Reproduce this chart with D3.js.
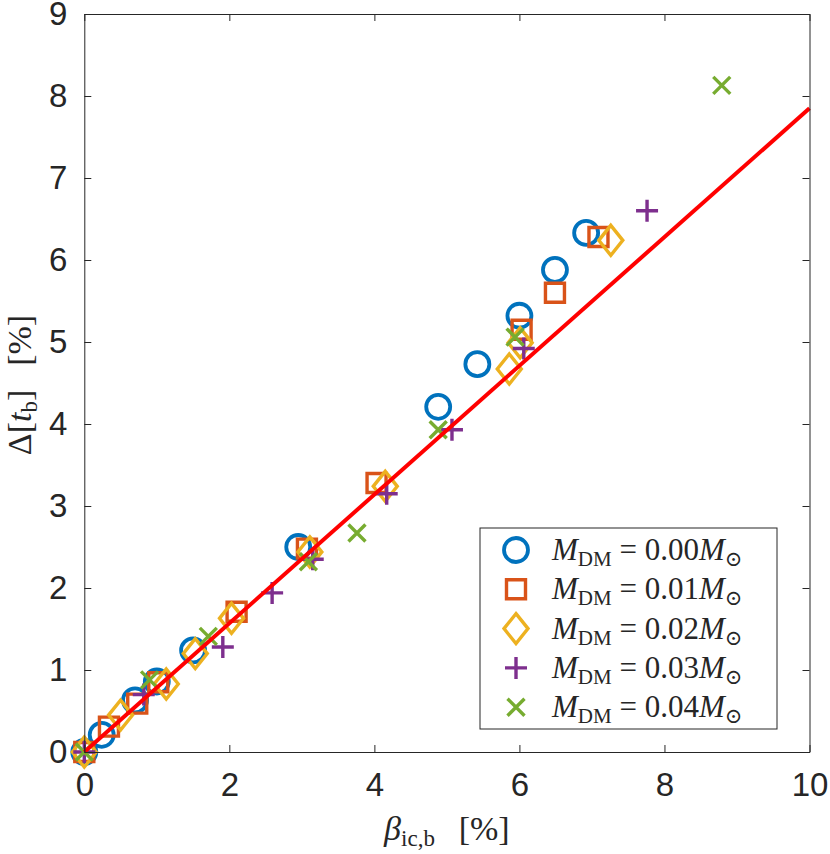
<!DOCTYPE html>
<html>
<head>
<meta charset="utf-8">
<script src="https://cdn.jsdelivr.net/npm/d3@7"></script>
<style>
  body { margin: 0; background: #fff; }
  .tick text { font-family: "Liberation Sans", Arial, sans-serif; font-size: 33px; fill: #262626; }
  .math { font-family: "Liberation Serif", "DejaVu Serif", serif; fill: #262626; }
</style>
</head>
<body>
<svg id="chart" width="830" height="854"></svg>
<script>
// data: beta_ic,b [%] vs Delta[t_b] [%]
const xTicks = [0, 2, 4, 6, 8, 10];
const yTicks = [0, 1, 2, 3, 4, 5, 6, 7, 8, 9];

const m000x = [0, 0.24, 0.70, 1.00, 1.50, 2.95, 4.88, 5.42, 6.00, 6.49, 6.92];
const m000y = [0, 0.21, 0.63, 0.86, 1.24, 2.50, 4.21, 4.73, 5.32, 5.88, 6.33];
const m001x = [0, 0.34, 0.73, 1.02, 2.10, 3.07, 4.03, 6.03, 6.49, 7.09];
const m001y = [0, 0.31, 0.59, 0.85, 1.71, 2.48, 3.28, 5.15, 5.60, 6.28];
const m002x = [0, 0.50, 1.13, 1.53, 2.03, 3.11, 4.15, 5.86, 6.01, 7.26];
const m002y = [0, 0.45, 0.83, 1.20, 1.63, 2.44, 3.24, 4.67, 4.99, 6.24];
const m003x = [0, 0.82, 1.91, 2.59, 3.15, 4.17, 5.07, 6.06, 7.76];
const m003y = [0, 0.70, 1.28, 1.94, 2.35, 3.15, 3.93, 4.92, 6.60];
const m004x = [0, 0.90, 1.71, 3.09, 3.76, 4.88, 5.94, 8.79];
const m004y = [0, 0.88, 1.41, 2.32, 2.67, 3.93, 5.06, 8.13];

const fitX = [0, 10];
const fitY = [0, 7.85];

const labels = ['0.00', '0.01', '0.02', '0.03', '0.04'];
const colors = ['#0072BD', '#D95319', '#EDB120', '#7E2F8E', '#77AC30'];
const shapes = ['circle', 'square', 'diamond', 'plus', 'cross'];

const series = [
  { x: m000x, y: m000y }, { x: m001x, y: m001y }, { x: m002x, y: m002y },
  { x: m003x, y: m003y }, { x: m004x, y: m004y }
];

const svg = d3.select('#chart');
const plotLeft = 84.3, plotRight = 809.5, plotTop = 14, plotBottom = 752;

const xScale = d3.scaleLinear().domain([0, 10]).range([plotLeft, plotRight]);
const yScale = d3.scaleLinear().domain([0, 9]).range([plotBottom, plotTop]);

// marker path for a shape, centered at 0,0
function markerPath(shape) {
  switch (shape) {
    case 'circle': return d3.arc()({ innerRadius: 0, outerRadius: 12, startAngle: 0, endAngle: 2 * Math.PI });
    case 'square': return 'M-9.5,-9.5H9.5V9.5H-9.5Z';
    case 'diamond': return 'M0,-15L12,0L0,15L-12,0Z';
    case 'plus': return 'M-11,0H11M0,-11V11';
    case 'cross': return 'M-8.5,-8.5L8.5,8.5M-8.5,8.5L8.5,-8.5';
  }
}

// markers
series.forEach((s, i) => {
  const pts = s.x.map((v, k) => [v, s.y[k]]);
  svg.append('g').selectAll('path')
    .data(pts)
    .enter()
    .append('path')
    .attr('transform', (d) => `translate(${xScale(d[0])},${yScale(d[1])})`)
    .attr('d', markerPath(shapes[i]))
    .attr('fill', 'none')
    .attr('stroke', colors[i])
    .attr('stroke-width', shapes[i] === 'circle' ? 3.8 : 3.4);
});

// fitted line
svg.append('path')
  .datum(fitX.map((v, k) => [v, fitY[k]]))
  .attr('d', d3.line().x((d) => xScale(d[0])).y((d) => yScale(d[1])))
  .attr('stroke', '#FF0000')
  .attr('stroke-width', 4)
  .attr('fill', 'none');

// axes (box with inward ticks)
const tickLen = 7;
svg.append('g')
  .attr('transform', `translate(0, ${plotBottom})`)
  .call(d3.axisBottom(xScale).tickValues(xTicks).tickSizeInner(-tickLen).tickSizeOuter(0).tickPadding(21))
  .call((g) => g.select('.domain').attr('stroke', '#262626'))
  .call((g) => g.selectAll('.tick line').attr('stroke', '#262626'));

svg.append('g')
  .attr('transform', `translate(${plotLeft}, 0)`)
  .call(d3.axisLeft(yScale).tickValues(yTicks).tickSizeInner(-tickLen).tickSizeOuter(0).tickPadding(17))
  .call((g) => g.select('.domain').attr('stroke', '#262626'))
  .call((g) => g.selectAll('.tick line').attr('stroke', '#262626'));

svg.append('g')
  .attr('transform', `translate(0, ${plotTop})`)
  .call(d3.axisTop(xScale).tickValues(xTicks).tickSizeInner(-tickLen).tickSizeOuter(0).tickFormat(''))
  .call((g) => g.select('.domain').attr('stroke', '#262626'))
  .call((g) => g.selectAll('.tick line').attr('stroke', '#262626'));

svg.append('g')
  .attr('transform', `translate(${plotRight}, 0)`)
  .call(d3.axisRight(yScale).tickValues(yTicks).tickSizeInner(-tickLen).tickSizeOuter(0).tickFormat(''))
  .call((g) => g.select('.domain').attr('stroke', '#262626'))
  .call((g) => g.selectAll('.tick line').attr('stroke', '#262626'));

// x label: beta_{ic,b} [%]
const xl = svg.append('text')
  .attr('class', 'math')
  .attr('x', (plotLeft + plotRight) / 2)
  .attr('y', 840)
  .attr('text-anchor', 'middle')
  .attr('font-size', 34);
xl.append('tspan').attr('font-style', 'italic').text('β');
xl.append('tspan').attr('font-size', 23).attr('dy', 6).text('ic,b');
xl.append('tspan').attr('dy', -6).text('\u2002\u2009[%]');

// y label: Delta[t_b] [%]
const yl = svg.append('text')
  .attr('class', 'math')
  .attr('transform', `translate(31, ${(plotTop + plotBottom) / 2 + 2}) rotate(-90)`)
  .attr('text-anchor', 'middle')
  .attr('font-size', 34);
yl.append('tspan').text('Δ[');
yl.append('tspan').attr('font-style', 'italic').text('t');
yl.append('tspan').attr('font-size', 23).attr('dy', 6).text('b');
yl.append('tspan').attr('dy', -6).text(']\u2002\u2009[%]');

// legend
const legend = svg.append('g');
legend.append('rect')
  .attr('x', 480).attr('y', 528)
  .attr('width', 297).attr('height', 201)
  .attr('fill', '#fff')
  .attr('stroke', '#262626')
  .attr('stroke-width', 1);

labels.forEach((lab, i) => {
  const cy = 550 + i * 39.3;
  legend.append('path')
    .attr('transform', `translate(516, ${cy})`)
    .attr('d', markerPath(shapes[i]))
    .attr('fill', 'none')
    .attr('stroke', colors[i])
    .attr('stroke-width', shapes[i] === 'circle' ? 3.8 : 3.4);
  const t = legend.append('text')
    .attr('class', 'math')
    .attr('x', 552)
    .attr('y', cy + 10)
    .attr('font-size', 31)
    .attr('fill', '#000')
    .attr('xml:space', 'preserve');
  t.append('tspan').attr('font-style', 'italic').text('M');
  t.append('tspan').attr('font-size', 21).attr('dy', 6).text('DM');
  t.append('tspan').attr('dy', -6).text(`\u00a0=\u00a0${lab}`);
  t.append('tspan').attr('font-style', 'italic').text('M');
  t.append('tspan').attr('font-size', 21).attr('dy', 6).text('⊙');
});
</script>
</body>
</html>
